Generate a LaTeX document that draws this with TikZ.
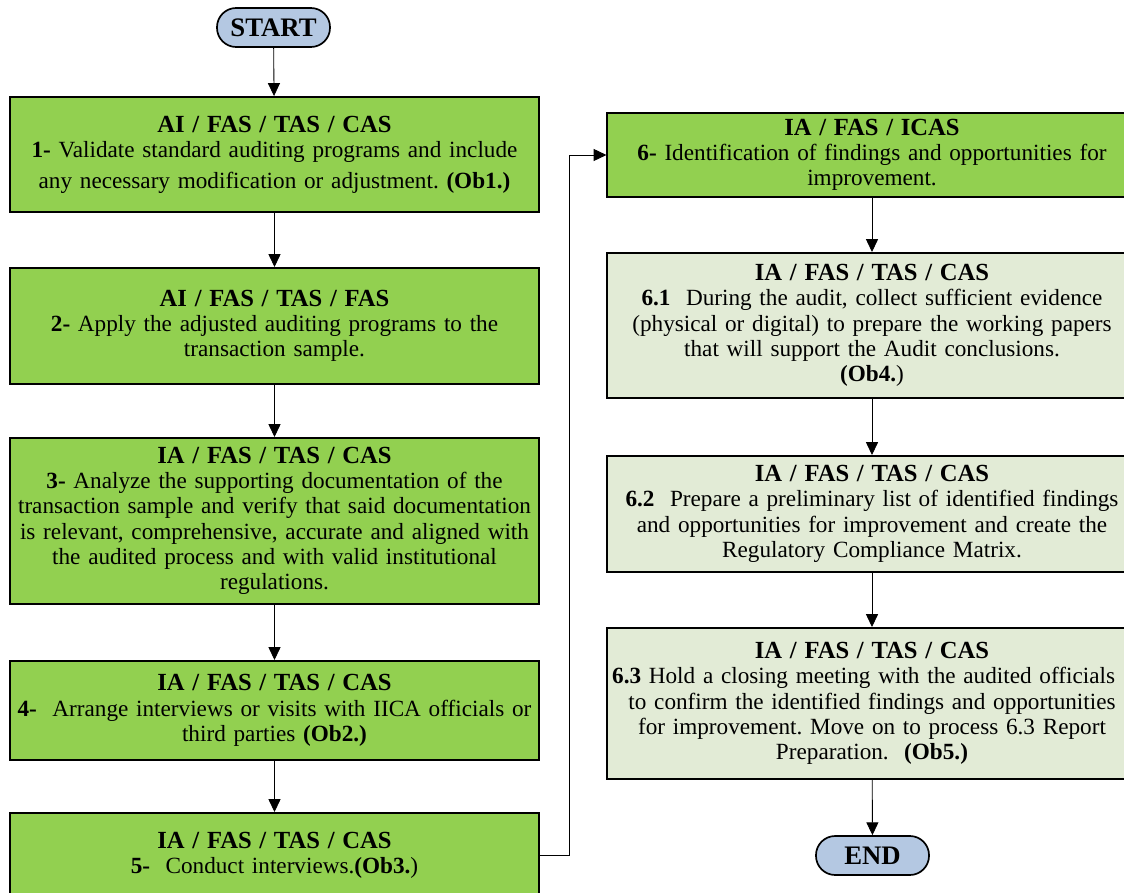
\documentclass[tikz,border=0pt]{standalone}
\usepackage{fontspec}
\setmainfont{Liberation Serif}
\usetikzlibrary{arrows.meta}
\definecolor{boxgreen}{HTML}{92D050}
\definecolor{boxpale}{HTML}{E2EBD6}
\definecolor{termblue}{HTML}{B4C8E2}
\newcommand{\boxhead}[1]{{\fontsize{17.5}{20}\selectfont\bfseries #1}\\}
\frenchspacing

\begin{document}
\begin{tikzpicture}[x=0.025cm, y=-0.025cm,
  stage/.style={draw=black, line width=1.4pt, fill=boxgreen, align=center,
    text width=13.1cm, minimum width=13.225cm, inner sep=0pt,
    font=\fontsize{16.5}{18}\selectfont},
  substage/.style={stage, fill=boxpale},
  terminal/.style={draw=black, line width=1.2pt, fill=termblue, rounded corners=0.48cm,
    minimum width=2.825cm, minimum height=0.975cm, inner sep=0pt,
    font=\fontsize{19}{21}\selectfont\bfseries},
  arr/.style={-{Triangle[length=3.2mm,width=3mm]}, line width=0.6pt}]
\clip (0,0) rectangle (1124,893);

% left column
\node[terminal] (start) at (273.5,27.5) {START};
\node[stage, minimum height=2.875cm] (s1) at (274.5,154.5)
  {\boxhead{AI / FAS / TAS / CAS}\textbf{1-} Validate standard auditing programs and include\\[4pt]
   any necessary modification or adjustment. \textbf{(Ob1.)}};
\node[stage, minimum height=2.9cm] (s2) at (274.5,326)
  {\boxhead{AI / FAS / TAS / FAS}\textbf{2-} Apply the adjusted auditing programs to the\\
   transaction sample.};
\node[stage, minimum height=4.15cm] (s3) at (274.5,521)
  {\boxhead{IA / FAS / TAS / CAS}\textbf{3-} Analyze the supporting documentation of the\\
   transaction sample and verify that said documentation\\
   is relevant, comprehensive, accurate and aligned with\\
   the audited process and with valid institutional\\
   regulations.};
\node[stage, minimum height=2.475cm] (s4) at (274.5,710.5)
  {\boxhead{IA / FAS / TAS / CAS}\textbf{4-}\ \ Arrange interviews or visits with IICA officials or\\
   third parties \textbf{(Ob2.)}};
\node[stage, minimum height=2.1cm] (s5) at (274.5,855)
  {\boxhead{IA / FAS / TAS / CAS}\textbf{5-}\ \ Conduct interviews.\textbf{(Ob3.})};

% right column
\node[stage, minimum height=2.1cm] (s6) at (872,155)
  {\boxhead{IA / FAS / ICAS}\textbf{6-} Identification of findings and opportunities for\\
   improvement.};
\node[substage, minimum height=3.625cm] (s61) at (872,325.5)
  {\boxhead{IA / FAS / TAS / CAS}\textbf{6.1}\ \ During the audit, collect sufficient evidence\\
   (physical or digital) to prepare the working papers\\
   that will support the Audit conclusions.\\
   \textbf{(Ob4.})};
\node[substage, minimum height=2.9cm] (s62) at (872,514)
  {\boxhead{IA / FAS / TAS / CAS}\textbf{6.2}\ \ Prepare a preliminary list of identified findings\\
   and opportunities for improvement and create the\\
   Regulatory Compliance Matrix.};
\node[substage, minimum height=3.775cm] (s63) at (872,703.5)
  {\boxhead{IA / FAS / TAS / CAS}\hspace*{-12pt}\textbf{6.3} Hold a closing meeting with the audited officials\\
   to confirm the identified findings and opportunities\\
   for improvement. Move on to process 6.3 Report\\
   Preparation.\ \ \textbf{(Ob5.)}};
\node[terminal] (end) at (872.5,855.5) {END};

% connectors
\draw[arr] (start) -- (s1);
\draw[arr] (s1) -- (s2);
\draw[arr] (s2) -- (s3);
\draw[arr] (s3) -- (s4);
\draw[arr] (s4) -- (s5);
\coordinate (turn) at (569,155);
\draw[arr] (s5.east) -| (turn) -- (s6.west);
\draw[arr] (s6) -- (s61);
\draw[arr] (s61) -- (s62);
\draw[arr] (s62) -- (s63);
\draw[arr] (s63) -- (end);
\end{tikzpicture}
\end{document}
